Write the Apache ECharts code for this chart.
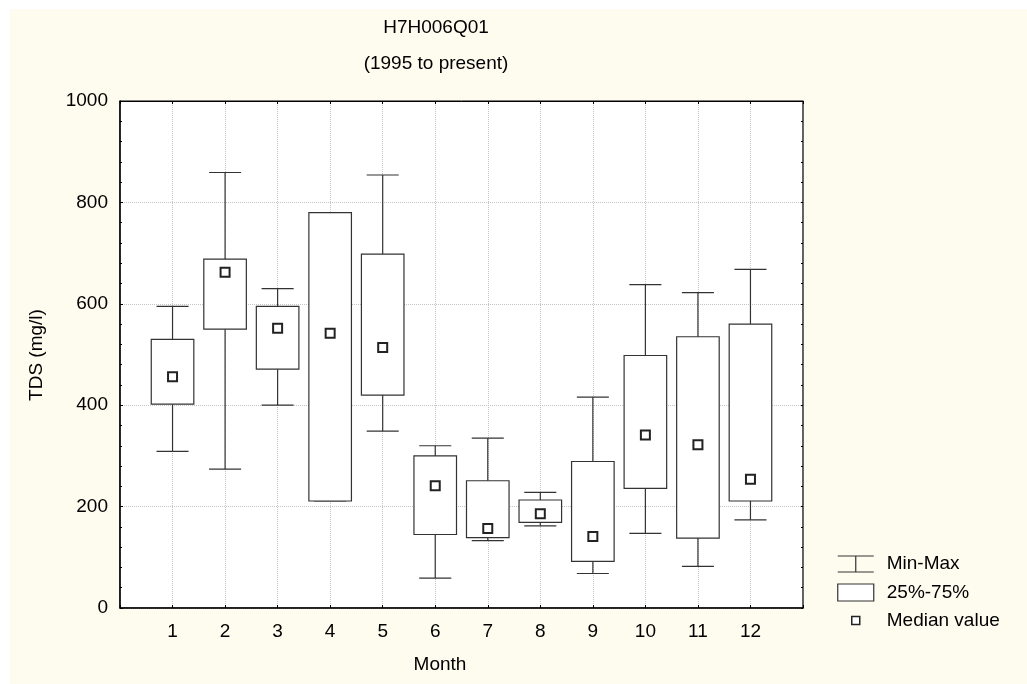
<!DOCTYPE html>
<html>
<head>
<meta charset="utf-8">
<script src="https://cdn.jsdelivr.net/npm/echarts@6/dist/echarts.min.js"></script>
<style>
html,body{margin:0;padding:0;background:#fff;width:1027px;height:684px;overflow:hidden;}
#chart{position:absolute;left:10px;top:9px;width:1017px;height:675px;}
</style>
</head>
<body>
<div id="chart"></div>
<script>
// ---- data ----
const months = [1, 2, 3, 4, 5, 6, 7, 8, 9, 10, 11, 12];
const minVals = [309, 274, 400, 211, 349, 59, 133, 162, 68, 147, 82, 174];
const q1Vals = [402, 550, 471, 211, 420, 145, 139, 169, 92, 236, 138, 211];
const medianVals = [456, 662, 552, 542, 514, 241, 157, 186, 141, 341, 322, 254];
const q3Vals = [530, 688, 595, 780, 698, 300, 251, 213, 289, 498, 535, 560];
const maxVals = [595, 859, 630, 780, 854, 320, 335, 228, 416, 638, 622, 668];
const yTicks = [0, 200, 400, 600, 800, 1000];
const titleText = 'H7H006Q01';
const subtitleText = '(1995 to present)';
const xTitle = 'Month';
const yTitle = 'TDS (mg/l)';
const legendNames = ['Min-Max', '25%-75%', 'Median value'];

const FONT = "'Liberation Sans', Arial, sans-serif";
const FS = 19;
const LINE = '#333';

const chart = echarts.init(document.getElementById('chart'));

function renderWhisker(params, api) {
  const x = api.value(0);
  const pMin = api.coord([x, api.value(1)]);
  const pMax = api.coord([x, api.value(2)]);
  const cw = api.size([0.61, 0])[0];
  const st = { stroke: LINE, lineWidth: 1.2 };
  return {
    type: 'group',
    children: [
      { type: 'line', shape: { x1: pMin[0], y1: pMin[1], x2: pMax[0], y2: pMax[1] }, style: st },
      { type: 'line', shape: { x1: pMin[0] - cw / 2, y1: pMin[1], x2: pMin[0] + cw / 2, y2: pMin[1] }, style: st },
      { type: 'line', shape: { x1: pMax[0] - cw / 2, y1: pMax[1], x2: pMax[0] + cw / 2, y2: pMax[1] }, style: st }
    ]
  };
}

function renderBox(params, api) {
  const x = api.value(0);
  const pLo = api.coord([x, api.value(1)]);
  const pHi = api.coord([x, api.value(2)]);
  const w = api.size([0.81, 0])[0];
  return {
    type: 'rect',
    shape: { x: pHi[0] - w / 2, y: pHi[1], width: w, height: pLo[1] - pHi[1] },
    style: { fill: '#fff', stroke: LINE, lineWidth: 1.2 }
  };
}

const xAxisBase = {
  type: 'value', min: 0, max: 13, interval: 1,
  axisLine: { show: true, onZero: false, lineStyle: { color: '#000', width: 1.5 } },
  axisTick: { show: true, inside: true, length: 3, lineStyle: { color: '#000' } },
  splitLine: { show: false }
};

// fine inside ticks every 40 units (no labels, no grid)
const fineTickAxis = {
  type: 'value', min: 0, max: 1000, interval: 40,
  axisLine: { show: false },
  axisTick: { show: true, inside: true, length: 2, lineStyle: { color: '#000' } },
  axisLabel: { show: false },
  splitLine: { show: false }
};

const option = {
  backgroundColor: '#fefcef',
  animation: false,
  textStyle: { fontFamily: FONT },
  grid: {
    left: 110, top: 92, right: 224, bottom: 76,
    show: true, backgroundColor: '#fff', borderColor: '#000', borderWidth: 1
  },
  graphic: [
    { type: 'text', x: 426, y: 19, style: { text: titleText, font: FS + 'px ' + FONT, fill: '#000', align: 'center', verticalAlign: 'middle' } },
    { type: 'text', x: 426, y: 55, style: { text: subtitleText, font: FS + 'px ' + FONT, fill: '#000', align: 'center', verticalAlign: 'middle' } },
    { type: 'text', x: 430, y: 656, style: { text: xTitle, font: FS + 'px ' + FONT, fill: '#000', align: 'center', verticalAlign: 'middle' } },
    { type: 'text', x: 27, y: 346, rotation: Math.PI / 2, style: { text: yTitle, font: FS + 'px ' + FONT, fill: '#000', align: 'center', verticalAlign: 'middle' } }
  ],
  legend: {
    orient: 'vertical', left: 827, top: 545.5, padding: 0,
    itemWidth: 36, itemHeight: 17, itemGap: 9.5,
    selectedMode: false,
    textStyle: { fontSize: FS, lineHeight: 19, color: '#000', fontFamily: FONT, padding: [0, 0, 0, 8] },
    data: [
      { name: legendNames[0], icon: 'path://M0 0.5H36M18 0.5V16.5M0 16.5H36', itemStyle: { color: 'rgba(0,0,0,0)', borderColor: LINE, borderWidth: 1.2 } },
      { name: legendNames[1], icon: 'rect', itemStyle: { color: '#fff', borderColor: LINE, borderWidth: 1.2 } },
      { name: legendNames[2], icon: 'path://M0 0M36 17M14 4h8v8h-8z', itemStyle: { color: '#fff', borderColor: '#222', borderWidth: 1.5 } }
    ]
  },
  xAxis: [
    Object.assign({}, xAxisBase, {
      position: 'bottom',
      axisLabel: {
        color: '#000', fontSize: FS, fontFamily: FONT, margin: 14,
        formatter: function (v) { return months.indexOf(v) >= 0 ? String(v) : ''; }
      },
      splitLine: { show: true, lineStyle: { type: 'dotted', color: '#c4c4c4', width: 1 } }
    }),
    Object.assign({}, xAxisBase, {
      position: 'top',
      axisLine: { show: true, onZero: false, lineStyle: { color: '#000', width: 1 } },
      axisLabel: { show: false }
    })
  ],
  yAxis: [
    {
      type: 'value', min: 0, max: 1000, interval: 200, position: 'left',
      axisLine: { show: true, lineStyle: { color: '#000', width: 1.5 } },
      axisTick: { show: true, inside: true, length: 3, lineStyle: { color: '#000' } },
      axisLabel: {
        color: '#000', fontSize: FS, fontFamily: FONT, margin: 12,
        formatter: function (v) { return yTicks.indexOf(v) >= 0 ? String(v) : ''; }
      },
      splitLine: { show: true, lineStyle: { type: 'dotted', color: '#c4c4c4', width: 1 } }
    },
    Object.assign({}, fineTickAxis, { position: 'left' }),
    Object.assign({}, fineTickAxis, {
      position: 'right',
      axisLine: { show: true, lineStyle: { color: '#555', width: 1.5 } }
    })
  ],
  series: [
    {
      name: legendNames[0], type: 'custom', renderItem: renderWhisker,
      xAxisIndex: 0, yAxisIndex: 0,
      encode: { x: 0, y: [1, 2] },
      itemStyle: { color: LINE },
      data: months.map((m, i) => [m, minVals[i], maxVals[i]]),
      z: 2
    },
    {
      name: legendNames[1], type: 'custom', renderItem: renderBox,
      xAxisIndex: 0, yAxisIndex: 0,
      encode: { x: 0, y: [1, 2] },
      itemStyle: { color: '#fff' },
      data: months.map((m, i) => [m, q1Vals[i], q3Vals[i]]),
      z: 3
    },
    {
      name: legendNames[2], type: 'scatter',
      xAxisIndex: 0, yAxisIndex: 0,
      symbol: 'rect', symbolSize: 9,
      itemStyle: { color: '#fff', borderColor: '#222', borderWidth: 2, opacity: 1 },
      data: months.map((m, i) => [m, medianVals[i]]),
      z: 4
    }
  ]
};
chart.setOption(option);
</script>
</body>
</html>
